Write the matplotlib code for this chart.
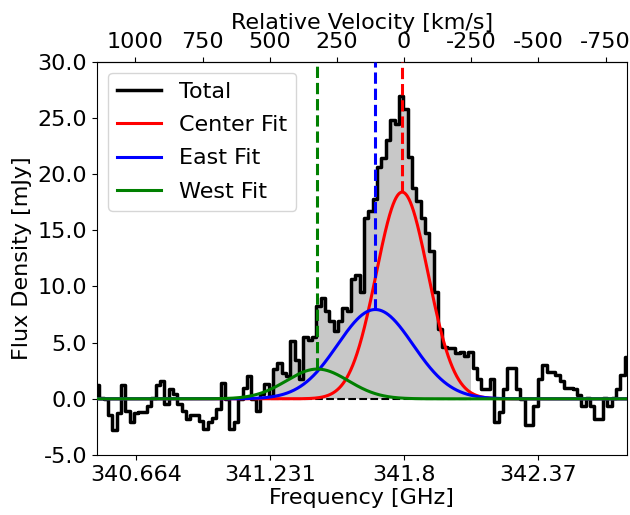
import numpy as np
import matplotlib
matplotlib.use('Agg')
import matplotlib.pyplot as plt

plt.rcParams['axes.unicode_minus'] = False
plt.rcParams['font.size'] = 16

C_KMS = 299792.458
REST_FREQ = 341.8  # GHz, zero velocity

# spectrum: channel grid and flux per channel [mJy]
chan_start = 340.497
chan_width = 0.01843
flux = [1.2, 0.1, 0.0, -1.4, -2.8, -1.3, 1.2, -1.1, -2.1, -1.3,
        -1.2, -1.2, -0.6, 0.1, 1.2, 1.6, -0.5, 0.9, 0.4, -0.5,
        -1.1, -1.8, -1.4, -1.4, -2.0, -2.7, -2.1, -1.7, -0.9, 1.45,
        0.0, -2.7, -2.1, 0.0, 1.0, 2.05, 0.0, -1.1, 0.4, 1.3,
        0.27, 2.64, 3.23, 2.34, 2.05, 5.17, 3.5, 1.8, 5.46, 5.2,
        5.46, 8.3, 9.0, 7.8, 6.9, 6.05, 6.9, 8.1, 7.8, 10.7,
        11.0, 9.5, 16.1, 16.7, 17.8, 20.6, 21.4, 23.0, 24.8, 24.5,
        27.0, 25.8, 21.5, 18.8, 17.6, 16.1, 14.8, 13.2, 9.5, 6.2,
        4.6, 4.5, 4.5, 4.1, 4.2, 3.8, 4.2, 2.7, 1.8, 0.9,
        0.9, 1.8, -2.1, -1.2, 0.9, 2.7, 2.7, 0.9, 0.0, -2.3,
        -2.3, -0.6, 1.8, 3.0, 2.4, 2.4, 2.1, 1.6, 1.0, 1.0,
        0.9, 0.3, -0.6, 0.1, -0.6, -1.8, -1.8, 0.1, -0.6, 0.1,
        0.9, 2.1, 3.7]

# gaussian fit components
fit_names = ['Center Fit', 'East Fit', 'West Fit']
fit_colors = ['red', 'blue', 'green']
fit_amp = [18.4, 7.95, 2.65]
fit_center = [341.792, 341.678, 341.432]
fit_sigma = [0.110, 0.16, 0.1315]

# integrated region
fill_lo = 341.23
fill_hi = 342.09

freq_ticks = [340.664, 341.231, 341.8, 342.37]
freq_ticklabels = ['340.664', '341.231', '341.8', '342.37']
vel_ticks = [1000, 750, 500, 250, 0, -250, -500, -750]


def f2v(f):
    return C_KMS * (REST_FREQ - f) / REST_FREQ


def v2f(v):
    return REST_FREQ * (1 - v / C_KMS)


def gauss(x, a, mu, sig):
    return a * np.exp(-(x - mu) ** 2 / (2 * sig ** 2))


freq = chan_start + chan_width * np.arange(len(flux))
flux = np.array(flux)
fgrid = np.linspace(freq[0], freq[-1], 2000)

fig = plt.figure(figsize=(6.3, 5.15), dpi=100)
ax = fig.add_axes([0.154, 0.1165, 0.841, 0.7635])

sel = (freq >= fill_lo) & (freq <= fill_hi)
ax.fill_between(freq[sel], 0, flux[sel], step='mid', color='#c8c8c8', lw=0, zorder=1)
ax.step(freq, flux, where='mid', color='black', lw=2.5, label='Total', zorder=2)
ax.hlines(0, freq[sel][0], freq[sel][-1], colors='black', linestyles='dashed', lw=1.5, zorder=2)

for name, col, a, mu, sig in zip(fit_names, fit_colors, fit_amp, fit_center, fit_sigma):
    ax.plot(fgrid, gauss(fgrid, a, mu, sig), color=col, lw=2.2, label=name, zorder=3)
for col, a, mu in zip(fit_colors, fit_amp, fit_center):
    ax.vlines(mu, a, 30, colors=col, linestyles='dashed', lw=2.2, zorder=4)

ax.set_xlim(freq[0], freq[-1])
ax.set_ylim(-5, 30)
ax.set_xticks(freq_ticks)
ax.set_xticklabels(freq_ticklabels)
ax.set_yticks(np.arange(-5, 31, 5))
ax.set_yticklabels(['%.1f' % t for t in np.arange(-5, 31, 5)])
ax.set_xlabel('Frequency [GHz]', labelpad=2)
ax.set_ylabel('Flux Density [mJy]')

top = ax.secondary_xaxis('top', functions=(f2v, v2f))
top.set_xticks(vel_ticks)
top.set_xticklabels([str(v) for v in vel_ticks])
top.set_xlabel('Relative Velocity [km/s]', labelpad=2)

ax.legend(loc='upper left', fontsize=16, labelspacing=0.6)

fig.savefig('out.png', dpi=100)
